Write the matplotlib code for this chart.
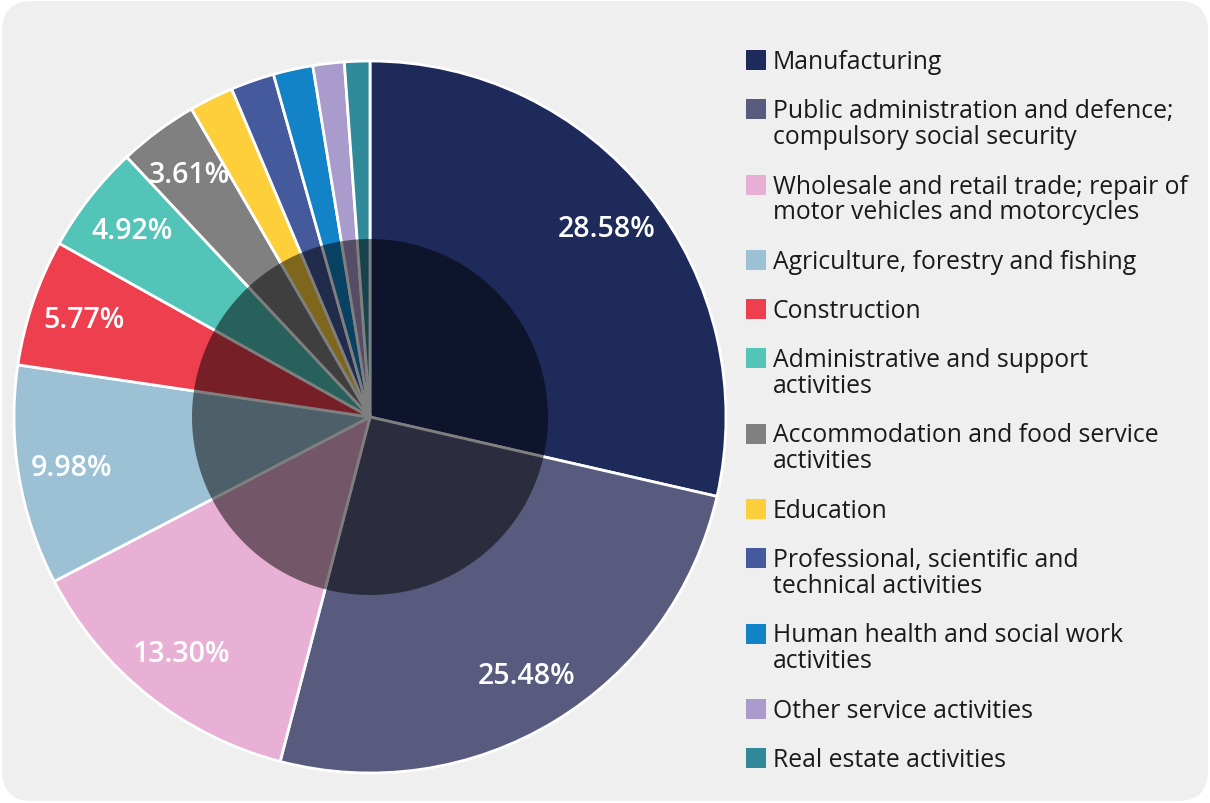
import numpy as np
import matplotlib
matplotlib.use("Agg")
import matplotlib.pyplot as plt
from matplotlib.patches import FancyBboxPatch, Circle, Rectangle

plt.rcParams['font.family'] = ['Open Sans', 'DejaVu Sans']

# sector shares (%)
sectors = [
    "Manufacturing",
    "Public administration and defence;\ncompulsory social security",
    "Wholesale and retail trade; repair of\nmotor vehicles and motorcycles",
    "Agriculture, forestry and fishing",
    "Construction",
    "Administrative and support\nactivities",
    "Accommodation and food service\nactivities",
    "Education",
    "Professional, scientific and\ntechnical activities",
    "Human health and social work\nactivities",
    "Other service activities",
    "Real estate activities",
]
shares = [28.58, 25.48, 13.30, 9.98, 5.77, 4.92, 3.61, 2.01, 1.98, 1.80, 1.42, 1.15]
colors = ["#1e2a5a", "#585a7e", "#e8b0d4", "#9cc0d4", "#ee3f4f", "#52c4b8",
          "#808080", "#fdd03b", "#445a9c", "#1283c6", "#a99ccc", "#308a9a"]

W, H = 1210, 804
fig = plt.figure(figsize=(W / 100, H / 100), dpi=100)
fig.patch.set_facecolor("white")

# rounded grey card behind everything (pixel coords)
card = FancyBboxPatch((2 + 30, 2 + 30), W - 4 - 60, H - 4 - 60,
                      boxstyle="round,pad=30,rounding_size=30",
                      transform=None, facecolor="#efefef", edgecolor="none", zorder=-5)
fig.patches.append(card)

# pie: centre (370, 418) px, radius 356 px
cx, cy, R = 370, 418, 356
ax = fig.add_axes([(cx - R) / W, (H - cy - R) / H, 2 * R / W, 2 * R / H])
ax.set_zorder(1)

def fmt(p):
    return f"{p:.2f}%" if p > 3 else ""

wedges, texts, autotexts = ax.pie(
    shares, colors=colors, startangle=90, counterclock=False, radius=1.0,
    autopct=fmt, pctdistance=0.85,
    wedgeprops=dict(edgecolor="white", linewidth=2, clip_on=False),
    textprops=dict(color="white", fontsize=20.5, fontweight="semibold"))

# pie() resets the limits, so set them afterwards
ax.set_xlim(-1.0, 1.0)
ax.set_ylim(-1.0, 1.0)
ax.set_aspect("equal")
ax.axis("off")

# dark translucent disc over the centre
ax.add_patch(Circle((0, 0), 0.5, facecolor="black", alpha=0.5, edgecolor="none", zorder=5))

# legend drawn by hand to match the spacing
y = 61
for lab, col in zip(sectors, colors):
    fig.patches.append(Rectangle((746, H - y - 10), 20, 20, transform=None,
                                 facecolor=col, edgecolor="none", zorder=2))
    lines = lab.split("\n")
    for i, line in enumerate(lines):
        fig.text(773 / W, 1 - (y + 8 + 26 * i) / H, line, ha="left", va="baseline",
                 fontsize=17.8, color="#1a1a1a", zorder=2)
    y += 49 + 26.5 * (len(lines) - 1)

fig.savefig("out.png", dpi=100)
